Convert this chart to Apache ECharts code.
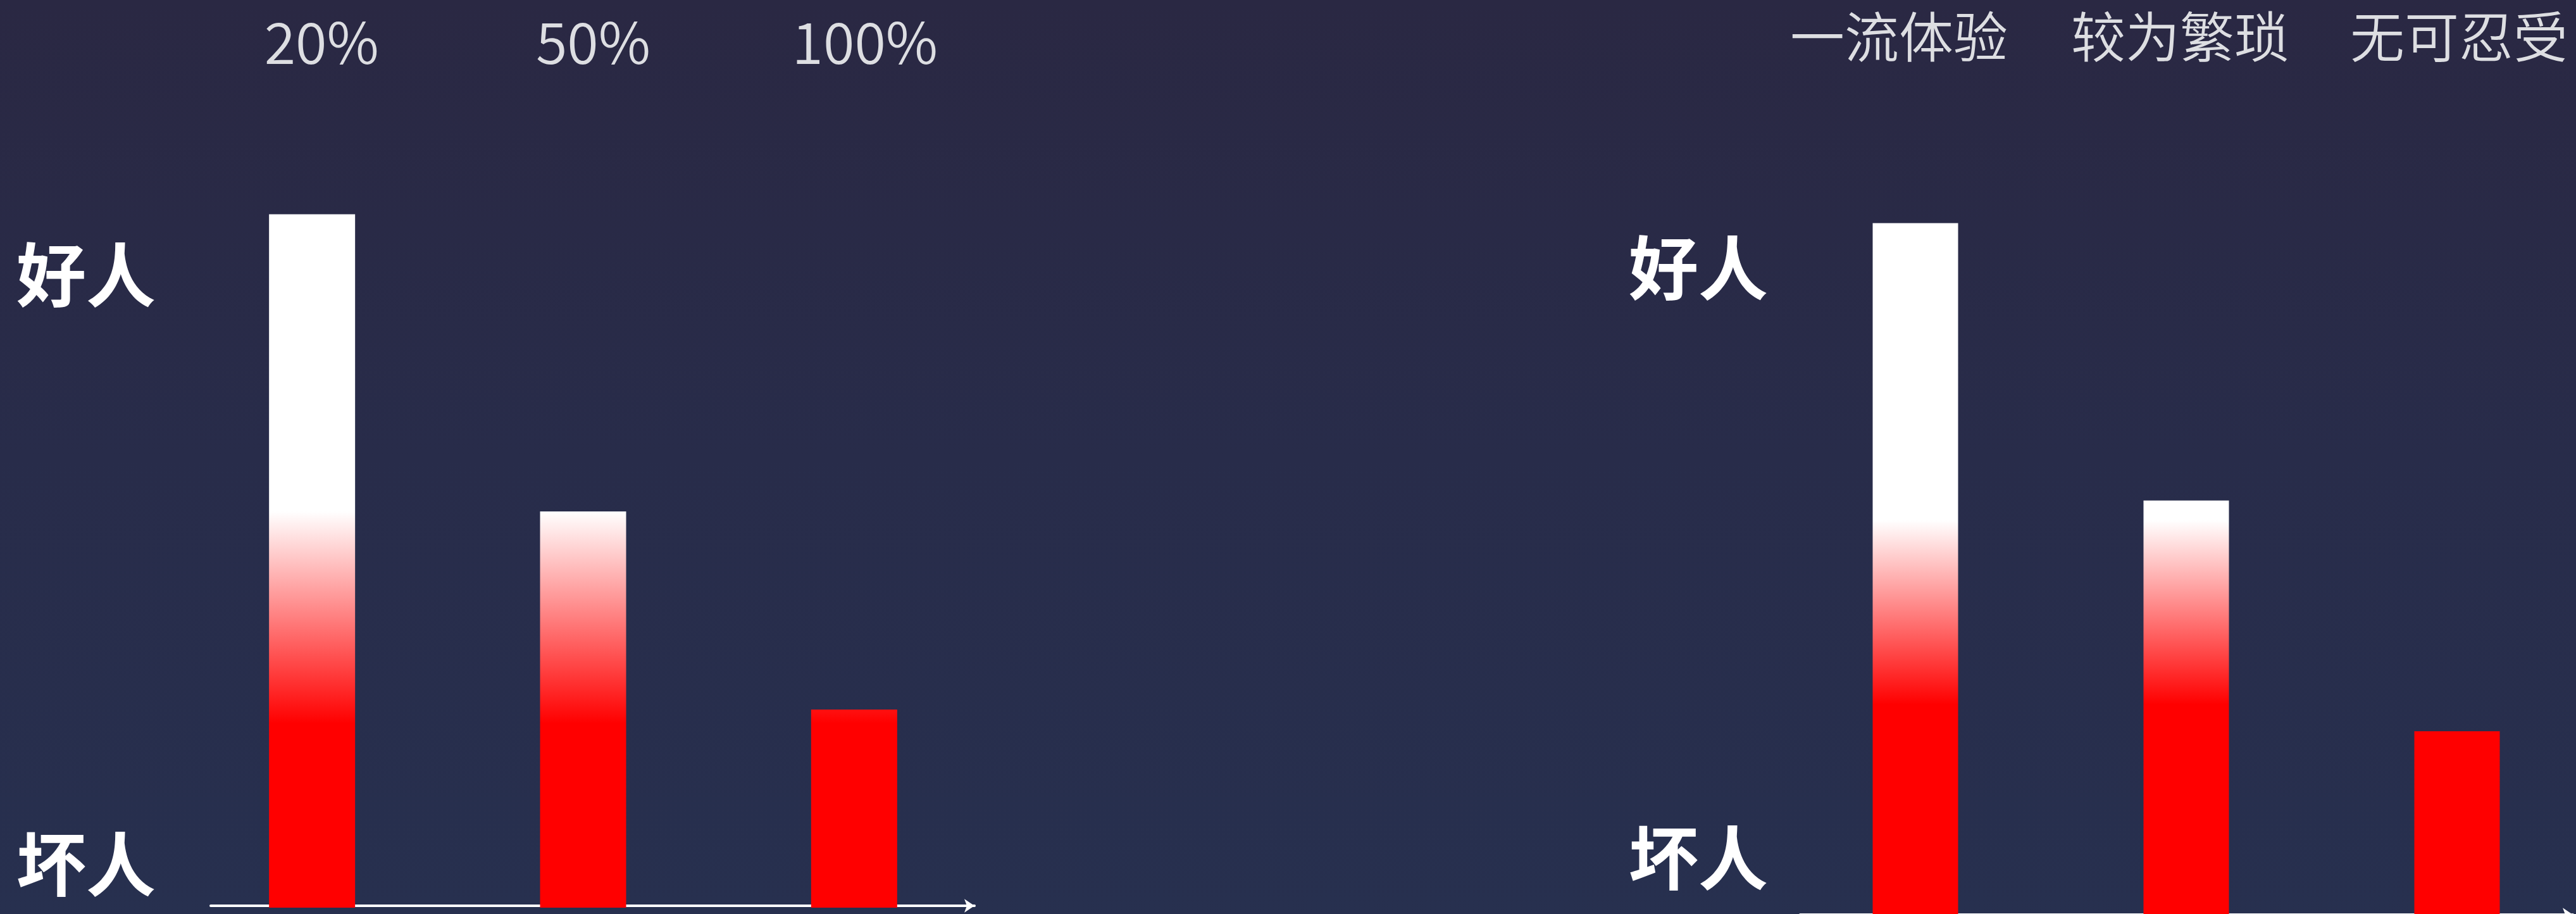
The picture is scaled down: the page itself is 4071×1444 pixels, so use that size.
<!DOCTYPE html>
<html>
<head>
<meta charset="utf-8">
<script src="https://cdn.jsdelivr.net/npm/echarts@6/dist/echarts.min.js"></script>
<style>
html, body { margin: 0; padding: 0; width: 100%; height: 100%; overflow: hidden; background: #282d4b; }
#main { width: 4071px; height: 1444px; }
</style>
</head>
<body>
<div id="main"></div>
<script>
// 左：按比例分档
const leftCategories = ['20%', '50%', '100%'];
const leftValues = [70, 40, 20];
// 右：按体验分档
const rightCategories = ['一流体验', '较为繁琐', '无可忍受'];
const rightValues = [70, 42, 18.7];
// 纵轴两端的文字及其所在位置
const tickLabels = ['坏人', '好人'];
const leftTickValues = [4.4, 63.9];
const rightTickValues = [5.9, 65.5];
// 柱子由白渐变到红的起止取值
const leftFade = [40, 18.6];
const rightFade = [40, 21.4];
const axisMax = 80;

const FONT = '"Noto Sans CJK SC", "Noto Sans", sans-serif';
const chart = echarts.init(document.getElementById('main'), null, { renderer: 'canvas' });

function labelOf(values) {
  return function (v) {
    let best = 0;
    values.forEach(function (t, i) {
      if (Math.abs(t - v) < Math.abs(values[best] - v)) best = i;
    });
    return tickLabels[best];
  };
}

// 顶部文字相对柱心的水平微调（像素，正数向右）
function shifted(names, shifts) {
  return names.map(function (name, i) {
    const s = shifts[i];
    return { value: name, textStyle: { padding: s >= 0 ? [0, 0, 0, 2 * s] : [0, -2 * s, 0, 0] } };
  });
}

function topAxis(gridIndex, data, fontSize, margin) {
  return {
    type: 'category', gridIndex: gridIndex, data: data, position: 'top', boundaryGap: true,
    axisLine: { show: false }, axisTick: { show: false }, splitLine: { show: false },
    axisLabel: {
      interval: 0, margin: margin, fontSize: fontSize, lineHeight: fontSize,
      color: '#dddee2', fontFamily: FONT, fontWeight: 350
    }
  };
}

function sideAxis(gridIndex, tickValues, margin) {
  return {
    type: 'value', gridIndex: gridIndex, min: 0, max: axisMax,
    axisLine: { show: false }, axisTick: { show: false }, splitLine: { show: false },
    axisLabel: {
      customValues: tickValues, formatter: labelOf(tickValues), margin: margin,
      fontSize: 110, lineHeight: 110, fontWeight: 'bold', color: '#ffffff', fontFamily: FONT
    }
  };
}

function arrowAxis(gridIndex) {
  return {
    type: 'value', gridIndex: gridIndex, min: 0, max: 1,
    axisLine: {
      show: true, onZero: false, symbol: ['none', 'arrow'], symbolSize: [16, 16],
      lineStyle: { color: '#ffffff', width: 4 }
    },
    axisTick: { show: false }, axisLabel: { show: false }, splitLine: { show: false }
  };
}

function hiddenAxis(gridIndex) {
  return { type: 'value', gridIndex: gridIndex, show: false, min: 0, max: 1 };
}

const gridBase = { containLabel: false, outerBoundsMode: 'none' };

chart.setOption({
  animation: false,
  backgroundColor: {
    type: 'linear', x: 0, y: 0, x2: 0, y2: 1,
    colorStops: [
      { offset: 0, color: '#2a2843' },
      { offset: 0.5, color: '#282c4a' },
      { offset: 1, color: '#27304f' }
    ]
  },
  grid: [
    Object.assign({ left: 279, width: 1285, top: 182, height: 1252 }, gridBase),
    Object.assign({ left: 2813, width: 1284, top: 196, height: 1252 }, gridBase),
    Object.assign({ left: 333, width: 1207, top: 1429, height: 2 }, gridBase),
    Object.assign({ left: 2845, width: 1221, top: 1443, height: 2 }, gridBase)
  ],
  xAxis: [
    topAxis(0, shifted(leftCategories, [15, 16, 17]), 90, 70),
    topAxis(1, shifted(rightCategories, [-26, -10, 3]), 86, 95),
    arrowAxis(2),
    arrowAxis(3)
  ],
  yAxis: [
    sideAxis(0, leftTickValues, 33),
    sideAxis(1, rightTickValues, 19),
    hiddenAxis(2),
    hiddenAxis(3)
  ],
  series: [
    { type: 'bar', xAxisIndex: 0, yAxisIndex: 0, data: leftValues, barWidth: 136, silent: true, itemStyle: { color: '#ff0000' } },
    { type: 'bar', xAxisIndex: 1, yAxisIndex: 1, data: rightValues, barWidth: 135, silent: true, itemStyle: { color: '#ff0000' } }
  ]
});

// 渐变按纵轴取值换算成像素，使各柱共用同一段白→红过渡
function fadeFill(axisIndex, fade) {
  const y0 = chart.convertToPixel({ yAxisIndex: axisIndex }, fade[0]);
  const y1 = chart.convertToPixel({ yAxisIndex: axisIndex }, fade[1]);
  return new echarts.graphic.LinearGradient(0, y0, 0, y1, [
    { offset: 0, color: '#ffffff' },
    { offset: 1, color: '#ff0000' }
  ], true);
}

chart.setOption({
  series: [
    { itemStyle: { color: fadeFill(0, leftFade) } },
    { itemStyle: { color: fadeFill(1, rightFade) } }
  ]
});
</script>
</body>
</html>
